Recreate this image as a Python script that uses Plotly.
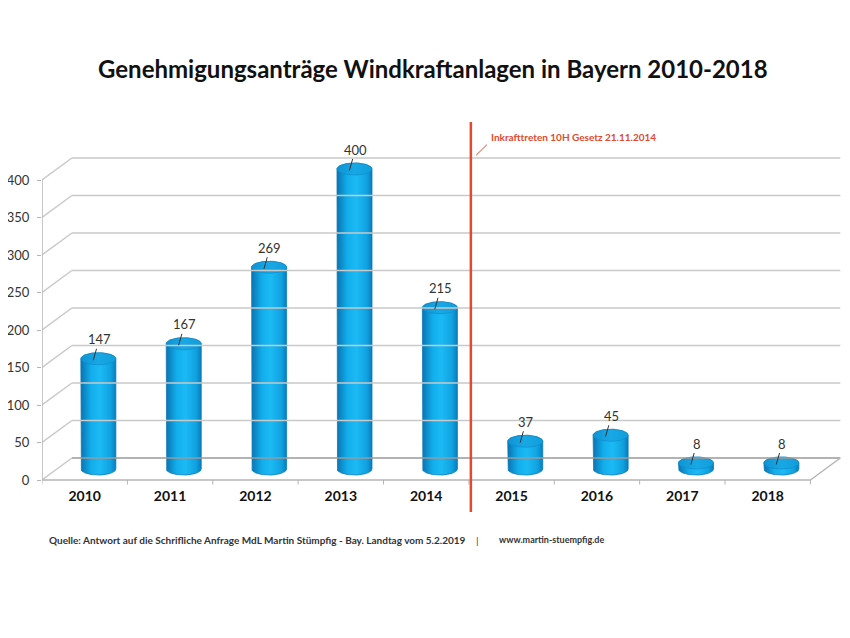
"""
Genehmigungsantraege Windkraftanlagen in Bayern 2010-2018, pseudo-3D cylinder chart.
"""

import numpy as np
import plotly.graph_objects as go

jahre = ['2010', '2011', '2012', '2013', '2014', '2015', '2016', '2017', '2018']
antraege = [147, 167, 269, 400, 215, 37, 45, 8, 8]
y_ticks = [0, 50, 100, 150, 200, 250, 300, 350, 400]

titel = 'Genehmigungsanträge Windkraftanlagen in Bayern 2010-2018'
gesetz_text = 'Inkrafttreten 10H Gesetz 21.11.2014'
gesetz_pos = 4.523   # between 2014 and 2015
quelle = 'Quelle: Antwort auf die Schrifliche Anfrage MdL Martin Stümpfig - Bay. Landtag vom 5.2.2019'
web = 'www.martin-stuempfig.de'

FONT = 'Lato'
GRID = '#c9c9c9'

# pseudo 3D: depth offset of the back wall (category units / value units)
TIEFE_X = 0.35
TIEFE_Y = 29.3
# cylinder geometry
CYL_DX = 0.16    # cylinder sits half way into the depth
CYL_RX = 0.205
CYL_RY = 8.0
BASE = TIEFE_Y / 2

fig = go.Figure()
shapes = []

# back wall grid + left wall diagonals
for v in y_ticks:
    shapes.append(dict(type='line', xref='x', yref='y',
                       x0=-0.5 + TIEFE_X, x1=8.5 + TIEFE_X,
                       y0=v + TIEFE_Y, y1=v + TIEFE_Y,
                       line=dict(color='#9a9a9a' if v == 0 else GRID, width=1.5)))
    shapes.append(dict(type='line', xref='x', yref='y',
                       x0=-0.5, x1=-0.5 + TIEFE_X,
                       y0=v, y1=v + TIEFE_Y,
                       line=dict(color=GRID, width=1.5)))
# front axis + floor
shapes.append(dict(type='line', xref='x', yref='y', x0=-0.5, x1=-0.5,
                   y0=0, y1=y_ticks[-1], line=dict(color='#b5b5b5', width=1.5)))
shapes.append(dict(type='line', xref='x', yref='y', x0=-0.5, x1=8.5,
                   y0=0, y1=0, line=dict(color='#b5b5b5', width=1.5)))
shapes.append(dict(type='line', xref='x', yref='y', x0=8.5, x1=8.5 + TIEFE_X,
                   y0=0, y1=TIEFE_Y, line=dict(color='#b5b5b5', width=1.5)))
for k in range(len(jahre) + 1):
    shapes.append(dict(type='line', xref='x', yref='y', x0=k - 0.5, x1=k - 0.5,
                       y0=0, y1=-6, line=dict(color='#b5b5b5', width=1)))

# cylinders
for i, v in enumerate(antraege):
    cx = i + CYL_DX
    top = BASE + v
    th_low = np.linspace(np.pi, 2 * np.pi, 40)
    th_up = np.linspace(0, np.pi, 40)
    bx = np.concatenate([[cx - CYL_RX], cx + CYL_RX * np.cos(th_low),
                         [cx + CYL_RX], cx + CYL_RX * np.cos(th_up)])
    by = np.concatenate([[top], BASE + CYL_RY * np.sin(th_low),
                         [top], top + CYL_RY * np.sin(th_up)])
    fig.add_trace(go.Scatter(
        x=bx, y=by, mode='lines', fill='toself',
        line=dict(color='#0b7ab8', width=0.8),
        fillgradient=dict(type='horizontal',
                          colorscale=[[0, '#0a74b2'], [0.3, '#12aeec'],
                                      [0.55, '#1bbaf5'], [0.85, '#10a2e0'],
                                      [1, '#0a7cbc']]),
        hoverinfo='skip', showlegend=False))
    th = np.linspace(0, 2 * np.pi, 80)
    fig.add_trace(go.Scatter(
        x=cx + CYL_RX * np.cos(th), y=top + CYL_RY * np.sin(th),
        mode='lines', fill='toself',
        line=dict(color='#0d8aca', width=0.6),
        fillgradient=dict(type='horizontal',
                          colorscale=[[0, '#0f93d3'], [0.5, '#18a8e6'],
                                      [1, '#129dda']]),
        hoverinfo='skip', showlegend=False))

annotations = []
for i, v in enumerate(antraege):
    annotations.append(dict(
        x=i + CYL_DX - 0.06, y=BASE + v - 2, xref='x', yref='y',
        text=str(v), showarrow=True, arrowhead=0, arrowwidth=1,
        arrowcolor='#333333', ax=6, ay=-21,
        font=dict(family=FONT, size=13, color='#333333')))

# 10H law marker
shapes.append(dict(type='line', xref='x', yref='paper', x0=gesetz_pos, x1=gesetz_pos,
                   y0=-0.069, y1=0.968, line=dict(color='#e14a2e', width=2.5)))
shapes.append(dict(type='line', xref='x', yref='y', x0=4.585, x1=4.71,
                   y0=433, y1=447, line=dict(color='#e14a2e', width=1)))
annotations.append(dict(x=4.73, y=458, xref='x', yref='y', xanchor='left',
                        yanchor='middle',
                        text='<b>' + gesetz_text + '</b>', showarrow=False,
                        font=dict(family=FONT, size=10, color='#e14a2e')))

# title and source
annotations.append(dict(x=0.489, y=1.1117, xref='paper', yref='paper',
                        yanchor='middle',
                        text='<b>' + titel + '</b>', showarrow=False,
                        font=dict(family=FONT, size=24, color='#111111')))
annotations.append(dict(x=0.00625, y=-0.1436, xref='paper', yref='paper',
                        xanchor='left', yanchor='middle',
                        text='<b>' + quelle + '</b>', showarrow=False,
                        font=dict(family=FONT, size=10, color='#333333')))
annotations.append(dict(x=0.544, y=-0.1436, xref='paper', yref='paper',
                        yanchor='middle', text='|', showarrow=False,
                        font=dict(family=FONT, size=10, color='#333333')))
annotations.append(dict(x=0.569, y=-0.1436, xref='paper', yref='paper',
                        xanchor='left', yanchor='middle',
                        text='<b>' + web + '</b>', showarrow=False,
                        font=dict(family=FONT, size=9, color='#333333')))

# page body has an 8px margin, so the plot area is shifted up/left by 8px
fig.update_layout(
    width=850, height=638,
    margin=dict(l=34, r=16, t=102, b=160),
    paper_bgcolor='white', plot_bgcolor='white',
    showlegend=False,
    shapes=shapes,
    annotations=annotations,
    xaxis=dict(range=[-0.5, 8.87], tickvals=list(range(len(jahre))),
               ticktext=['<b>' + j + '</b>' for j in jahre],
               showgrid=False, zeroline=False, showline=False, ticks='',
               tickfont=dict(family=FONT, size=14, color='#111111'),
               automargin=False, fixedrange=True),
    yaxis=dict(range=[-8, 493.33], tickvals=y_ticks,
               showgrid=False, zeroline=False, showline=False,
               ticks='outside', ticklen=4, tickcolor='#b5b5b5',
               ticklabelstandoff=5,
               tickfont=dict(family=FONT, size=13, color='#333333'),
               automargin=False, fixedrange=True),
)

fig.write_html('out.html', config={'displayModeBar': False})
